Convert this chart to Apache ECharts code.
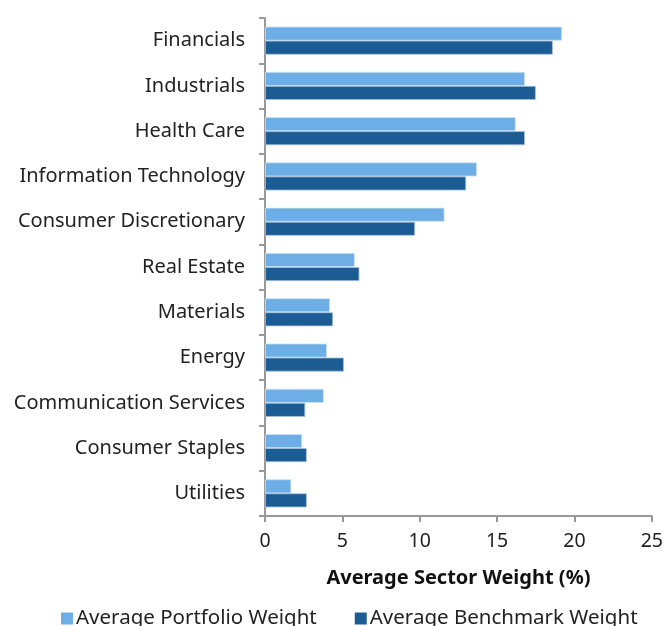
<!DOCTYPE html>
<html><head><meta charset="utf-8">
<script src="https://cdn.jsdelivr.net/npm/echarts@6/dist/echarts.min.js"></script>
<style>html,body{margin:0;padding:0;background:#fff}#c{width:666px;height:626px}</style>
</head><body><div id="c"></div>
<script>
const categories = ["Financials","Industrials","Health Care","Information Technology","Consumer Discretionary","Real Estate","Materials","Energy","Communication Services","Consumer Staples","Utilities"];
const portfolio = [19.2,16.8,16.2,13.7,11.6,5.8,4.2,4.0,3.8,2.4,1.7];
const benchmark = [18.6,17.5,16.8,13.0,9.7,6.1,4.4,5.1,2.6,2.7,2.7];
const xTicks = [0,5,10,15,20,25];
const FONT = "Noto Sans";
const chart = echarts.init(document.getElementById('c'));
chart.setOption({
  animation:false,
  textStyle:{fontFamily:FONT},
  grid:{left:265,right:13,top:18,bottom:110,containLabel:false},
  legend:{top:603,left:56,itemWidth:12,itemHeight:12,itemGap:38,icon:'rect',
    itemStyle:{borderWidth:0},
    textStyle:{fontFamily:FONT,fontSize:20.5,color:'#222',padding:[0,0,0,-2]},
    data:['Average Portfolio Weight','Average Benchmark Weight']},
  xAxis:{type:'value',min:xTicks[0],max:xTicks[xTicks.length-1],interval:5,
    name:'Average Sector Weight (%)',nameLocation:'middle',nameGap:52,
    nameTextStyle:{fontFamily:FONT,fontSize:20,fontWeight:'bold',color:'#111'},
    axisLine:{show:true,lineStyle:{color:'#999',width:2}},
    axisTick:{show:true,length:6,lineStyle:{color:'#999',width:2}},
    splitLine:{show:false},
    axisLabel:{fontSize:19.5,color:'#222',margin:15}},
  yAxis:{type:'category',data:categories,inverse:true,
    axisLine:{show:true,lineStyle:{color:'#999',width:2}},
    axisTick:{show:true,length:6,lineStyle:{color:'#999',width:2}},
    axisLabel:{fontSize:20,color:'#222',margin:20}},
  series:[
    {name:'Average Portfolio Weight',type:'bar',data:portfolio,barGap:'0%',barCategoryGap:'38%',
     itemStyle:{color:'#6DAEE6',borderColor:'#cfe3f5',borderWidth:0.8}},
    {name:'Average Benchmark Weight',type:'bar',data:benchmark,
     itemStyle:{color:'#1B5C94',borderColor:'#a9c3dc',borderWidth:0.8}}
  ]
});
</script></body></html>
